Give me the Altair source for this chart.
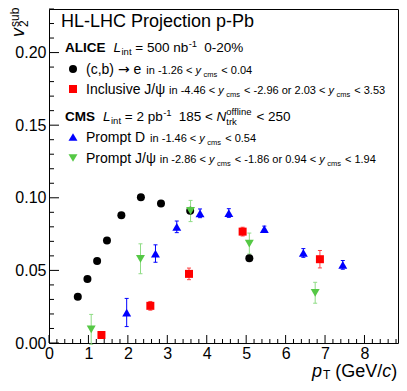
import altair as alt
import pandas as pd

# ---------------- data ----------------
ce_pt = [0.73, 0.975, 1.22, 1.47, 1.835, 2.33, 2.84, 3.58, 5.08]
ce_v2 = [0.0318, 0.0440, 0.0565, 0.0705, 0.0880, 0.1003, 0.0960, 0.0910, 0.0584]

jin_pt = [1.33, 2.57, 3.55, 4.91, 6.87]
jin_v2 = [0.0055, 0.0256, 0.0476, 0.0767, 0.0577]
jin_er = [0.0020, 0.0030, 0.0040, 0.0030, 0.0060]

d_pt = [1.97, 2.70, 3.24, 3.83, 4.56, 5.46, 6.45, 7.45]
d_v2 = [0.0210, 0.0616, 0.0800, 0.0893, 0.0895, 0.0785, 0.0620, 0.0538]
d_er = [0.0097, 0.0060, 0.0040, 0.0030, 0.0030, 0.0020, 0.0030, 0.0030]

jp_pt = [1.07, 2.32, 3.59, 5.08, 6.75]
jp_v2 = [0.0094, 0.0580, 0.0909, 0.0685, 0.0346]
jp_er = [0.0103, 0.0103, 0.0073, 0.0072, 0.0072]

x_major = [0, 1, 2, 3, 4, 5, 6, 7, 8]
x_minor = [i / 5 for i in range(45) if i % 5 != 0]
y_major = [0.0, 0.05, 0.10, 0.15, 0.20]
y_minor = [i / 100 for i in range(24) if i % 5 != 0]

# ---------------- geometry ----------------
W, H = 349, 334
XMAX, YMAX = 8.85, 0.23
X0, Y0 = 49, 343  # page pixel of the plot origin
FONT = "Liberation Sans"
AFONT = "DejaVu Sans"


def px(xp):
    return (xp - X0) / W * XMAX


def py(yp):
    return (Y0 - yp) / H * YMAX


REG = {' ': 278, '(': 333, ')': 333, ',': 278, '-': 333, '.': 278, '/': 278,
       '<': 584, '=': 584, '%': 889, 'A': 667, 'B': 667, 'C': 722, 'D': 722,
       'E': 667, 'G': 778, 'H': 722, 'I': 278, 'J': 500, 'L': 556, 'M': 833,
       'N': 722, 'P': 667, 'S': 667, 'T': 611, 'V': 667, 'a': 556, 'b': 556,
       'c': 500, 'e': 556, 'f': 278, 'i': 222, 'j': 222, 'k': 500, 'l': 222,
       'm': 833, 'n': 556, 'o': 556, 'p': 556, 'r': 333, 's': 500, 't': 278,
       'u': 556, 'v': 500, 'y': 500, 'ψ': 700, '→': 838}
BOLD = {'A': 722, 'L': 611, 'I': 278, 'C': 722, 'E': 667, 'M': 833, 'S': 667}


def tw(s, size, style):
    tab = BOLD if style == "b" else REG
    return sum(tab.get(c, REG.get(c, 556)) for c in s) / 1000 * size


segs = []


def place(t, x, y, s, st):
    # SVG drops leading/trailing blanks, so turn them into offsets
    lead = len(t) - len(t.lstrip(" "))
    x += lead * tw(" ", s, st)
    segs.append(dict(t=t.strip(" "), x=px(x), y=py(y), size=s, st=st))


def row(x, base, parts):
    for p in parts:
        if isinstance(p, list):  # stacked sub/superscripts
            w = 0
            for (t, s, st, dy) in p:
                place(t, x, base + dy, s, st)
                w = max(w, tw(t, s, st))
            x += w
            continue
        t, s, st, dy, gap = (list(p) + [0, 0])[:5]
        x += gap
        place(t, x, base + dy, s, st)
        x += tw(t, s, st)


row(61, 27, [("HL-LHC Projection p-Pb", 18, "n")])
row(65, 52, [("ALICE", 13.5, "b"), ("L", 13.5, "i", 0, 8), ("int", 9.5, "n", 3, 0.5),
             (" = 500 nb", 13.5, "n"), ("-1", 9.5, "n", -5, 0.5), ("0-20%", 13.5, "n", 0, 7)])
row(65, 121, [("CMS", 13.5, "b"), ("L", 13.5, "i", 0, 8), ("int", 9.5, "n", 3, 0.5),
              (" = 2 pb", 13.5, "n"), ("-1", 9.5, "n", -5, 0.5), ("185 < ", 13.5, "n", 0, 7),
              ("N", 13.5, "i"), [("trk", 9.5, "n", 3.5), ("offline", 9.5, "n", -6)],
              (" < 250", 13.5, "n", 0, 1)])


def ycms():
    return [("y", 11, "i"), ("cms", 7.5, "n", 2.5, 2.5)]


row(86, 74, [("(c,b) ", 14, "n"), ("→", 14, "a"), (" e", 14, "n"),
             ("in -1.26 < ", 11, "n", 0, 5)] + ycms() + [(" < 0.04", 11, "n", 0, 1)])
row(86, 94, [("Inclusive J/ψ", 14, "n"), ("in -4.46 < ", 11, "n", 0, 4)] + ycms()
    + [(" < -2.96 or 2.03 < ", 11, "n", 0, 1)] + ycms() + [(" < 3.53", 11, "n", 0, 1)])
row(86, 142, [("Prompt D", 14, "n"), ("in -1.46 < ", 11, "n", 0, 5)] + ycms()
    + [(" < 0.54", 11, "n", 0, 1)])
row(86, 163, [("Prompt J/ψ", 14, "n"), ("in -2.86 < ", 11, "n", 0, 4)] + ycms()
    + [(" < -1.86 or 0.94 < ", 11, "n", 0, 1)] + ycms() + [(" < 1.94", 11, "n", 0, 1)])
# x-axis title
row(312, 377, [("p", 18, "i"), ("T", 12, "n", 2, 1), ("(GeV/", 18, "n", 0, 5),
               ("c", 18, "i"), (")", 18, "n")])

seg = pd.DataFrame(segs)

# rotated y title pieces
ytitle = pd.DataFrame([
    dict(t="v", x=px(24), y=py(37), size=18, st="i"),
    dict(t="2", x=px(28), y=py(27), size=12, st="n"),
    dict(t="sub", x=px(19), y=py(27), size=12, st="n"),
])

xs = alt.Scale(domain=[0, XMAX], nice=False, zero=False)
ys = alt.Scale(domain=[0, YMAX], nice=False, zero=False)

base_axes = alt.Chart(pd.DataFrame({"x": [0.0], "y": [0.0]})).mark_point(opacity=0).encode(
    x=alt.X("x:Q", scale=xs, axis=alt.Axis(values=x_major, format="d", ticks=False, domain=False,
                                            grid=False, labelFontSize=16, labelFont=FONT,
                                            labelColor="black", labelPadding=2, labelFlush=False,
                                            labelOverlap=False, title=None)),
    y=alt.Y("y:Q", scale=ys, axis=alt.Axis(values=y_major, format=".2f", ticks=False, domain=False,
                                            grid=False, labelFontSize=16, labelFont=FONT,
                                            labelColor="black", labelPadding=3, labelFlush=False,
                                            labelOverlap=False, title=None)),
)

tick_layers = [
    alt.Chart(pd.DataFrame({"t": x_major})).mark_rule(color="black", strokeWidth=1).encode(
        x=alt.X("t:Q", scale=xs), y=alt.value(H), y2=alt.value(H - 8)),
    alt.Chart(pd.DataFrame({"t": x_minor})).mark_rule(color="black", strokeWidth=1).encode(
        x=alt.X("t:Q", scale=xs), y=alt.value(H), y2=alt.value(H - 4)),
    alt.Chart(pd.DataFrame({"t": y_major})).mark_rule(color="black", strokeWidth=1).encode(
        y=alt.Y("t:Q", scale=ys), x=alt.value(0), x2=alt.value(10)),
    alt.Chart(pd.DataFrame({"t": y_minor})).mark_rule(color="black", strokeWidth=1).encode(
        y=alt.Y("t:Q", scale=ys), x=alt.value(0), x2=alt.value(5)),
]


def series_df(pt, v2, er=None):
    df = pd.DataFrame({"pt": pt, "v2": v2})
    if er is not None:
        df["lo"] = [a - b for a, b in zip(v2, er)]
        df["hi"] = [a + b for a, b in zip(v2, er)]
    return df


def errbars(df, color):
    r = alt.Chart(df).mark_rule(color=color, strokeWidth=1).encode(
        x=alt.X("pt:Q", scale=xs), y=alt.Y("lo:Q", scale=ys), y2="hi:Q")
    c1 = alt.Chart(df).mark_rule(color=color, strokeWidth=1, xOffset=-2, x2Offset=2).encode(
        x=alt.X("pt:Q", scale=xs), x2="pt:Q", y=alt.Y("hi:Q", scale=ys))
    c2 = alt.Chart(df).mark_rule(color=color, strokeWidth=1, xOffset=-2, x2Offset=2).encode(
        x=alt.X("pt:Q", scale=xs), x2="pt:Q", y=alt.Y("lo:Q", scale=ys))
    return [r, c1, c2]


def pts(df, shape, color, size):
    return alt.Chart(df).mark_point(shape=shape, filled=True, color=color, size=size,
                                    opacity=1, strokeWidth=0).encode(
        x=alt.X("pt:Q", scale=xs), y=alt.Y("v2:Q", scale=ys))


RED, BLUE, GREEN, GREEN_E, RED_E = "#ff0000", "#0000ff", "#55c845", "#8fdc85", "#ff4040"

ce = series_df(ce_pt, ce_v2)
jin = series_df(jin_pt, jin_v2, jin_er)
dd = series_df(d_pt, d_v2, d_er)
jp = series_df(jp_pt, jp_v2, jp_er)

data_layers = (errbars(jp, GREEN_E) + errbars(dd, BLUE) + errbars(jin, RED_E)
               + [pts(ce, "circle", "black", 64), pts(jin, "square", RED, 64),
                  pts(dd, "triangle-up", BLUE, 80), pts(jp, "triangle-down", GREEN, 80)])

leg_layers = [
    pts(pd.DataFrame({"pt": [px(73)], "v2": [py(69)]}), "circle", "black", 64),
    pts(pd.DataFrame({"pt": [px(73)], "v2": [py(89)]}), "square", RED, 64),
    pts(pd.DataFrame({"pt": [px(73)], "v2": [py(137)]}), "triangle-up", BLUE, 80),
    pts(pd.DataFrame({"pt": [px(73)], "v2": [py(158)]}), "triangle-down", GREEN, 80),
]


def text_layer(df, style, angle=0):
    kw = dict(align="left", baseline="alphabetic", font=FONT, color="black")
    if style == "i":
        kw["fontStyle"] = "italic"
    if style == "b":
        kw["fontWeight"] = "bold"
    if style == "a":
        kw["font"] = AFONT
    if angle:
        kw["angle"] = angle
    sub = df[df["st"] == style]
    return alt.Chart(sub).mark_text(**kw).encode(
        x=alt.X("x:Q", scale=xs), y=alt.Y("y:Q", scale=ys), text="t:N",
        size=alt.Size("size:Q", scale=None, legend=None))


txt_layers = [text_layer(seg, s) for s in ("n", "i", "b", "a")] + \
             [text_layer(ytitle, s, 270) for s in ("n", "i")]

chart = alt.layer(base_axes, *tick_layers, *data_layers, *leg_layers, *txt_layers).properties(
    width=W, height=H, autosize="none",
    padding={"left": 41, "top": 1, "right": 1, "bottom": 40},
    background="white",
).configure_view(stroke="black", strokeWidth=1)

chart.save("out.html", embed_options={"renderer": "svg", "actions": False})
